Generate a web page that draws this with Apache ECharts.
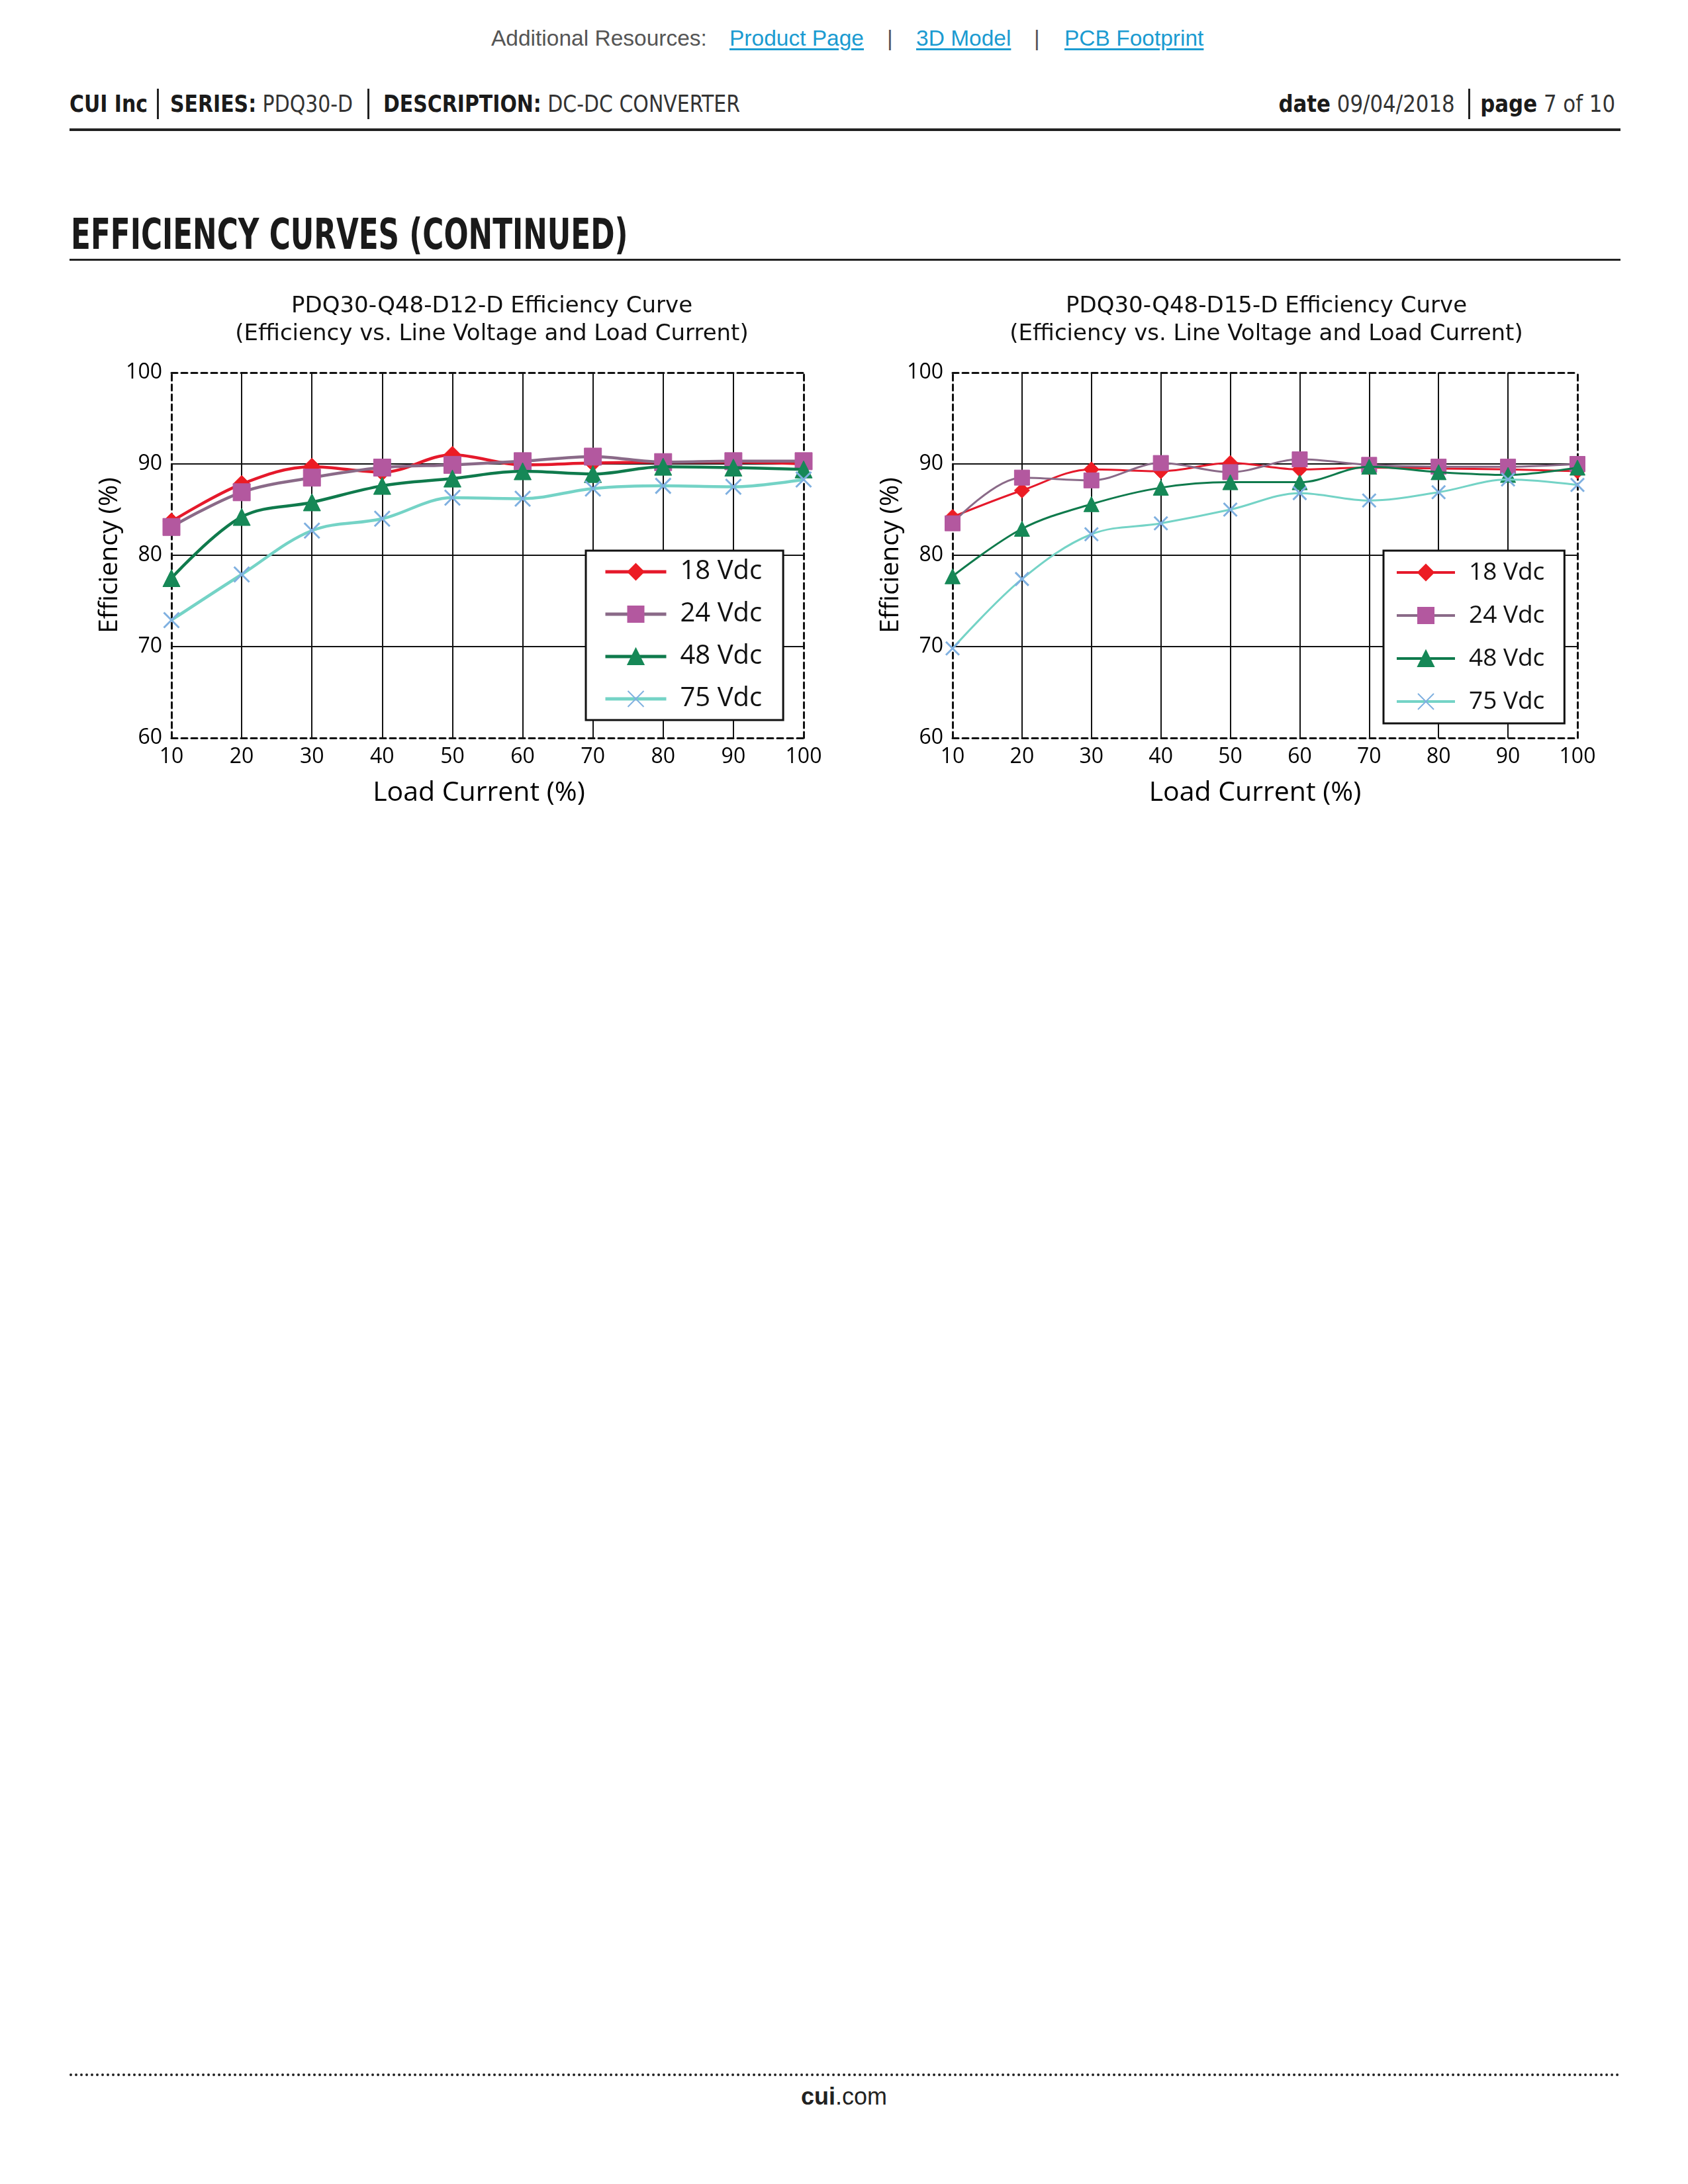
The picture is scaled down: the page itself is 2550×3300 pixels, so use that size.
<!DOCTYPE html>
<html>
<head>
<meta charset="utf-8">
<script src="https://cdn.jsdelivr.net/npm/echarts@6/dist/echarts.min.js"></script>
<style>
  html, body { margin:0; padding:0; background:#fff; }
  body { width:2550px; height:3300px; position:relative; overflow:hidden; }
  .abs { position:absolute; white-space:nowrap; }
  .res { font-family:"Liberation Sans", Arial, sans-serif; font-size:33.5px; color:#555; top:39px; }
  .lnk { color:#1b9bd1; text-decoration:underline; text-underline-offset:4px; }
  .hdr { font-family:"DejaVu Sans Condensed","DejaVu Sans",sans-serif; font-size:35px; color:#333; top:135px; line-height:44px; transform:scaleX(0.95); transform-origin:left center; }
  .hdr.r { transform:scaleX(0.98); transform-origin:right center; }
  .hdr b { font-weight:bold; color:#1a1a1a; }
  .bar { position:absolute; width:3px; background:#222; top:134px; height:46px; }
  .rule { position:absolute; left:105px; width:2343px; background:#222; }
  #chart { position:absolute; left:0; top:400px; width:2550px; height:850px; }
</style>
</head>
<body>
<div class="abs res" style="left:742px;">Additional Resources:</div>
<div class="abs res lnk" style="left:1102px;">Product Page</div>
<div class="abs res" style="left:1340px;">|</div>
<div class="abs res lnk" style="left:1384px;">3D Model</div>
<div class="abs res" style="left:1562px;">|</div>
<div class="abs res lnk" style="left:1608px;">PCB Footprint</div>

<div class="abs hdr" style="left:105px;"><b>CUI Inc</b></div>
<div class="bar" style="left:237px;"></div>
<div class="abs hdr" style="left:257px;"><b>SERIES:</b> PDQ30-D</div>
<div class="bar" style="left:555px;"></div>
<div class="abs hdr" style="left:579px;"><b>DESCRIPTION:</b> DC-DC CONVERTER</div>
<div class="abs hdr r" style="right:352px;"><b>date</b> 09/04/2018</div>
<div class="bar" style="left:2218px;"></div>
<div class="abs hdr r" style="right:110px;"><b>page</b> 7 of 10</div>
<div class="rule" style="top:194px;height:4px;"></div>

<div class="abs" id="sect" style="left:107px;top:322px;font-family:'DejaVu Sans Condensed','DejaVu Sans',sans-serif;font-weight:bold;font-size:54px;color:#1a1a1a;line-height:64px;transform:scale(0.9,1.2);transform-origin:left center;">EFFICIENCY CURVES (CONTINUED)</div>
<div class="rule" style="top:391px;height:3px;"></div>

<div id="chart"></div>

<div class="rule" style="top:3133px;height:0;background:none;border-top:4px dotted #222;"></div>
<div class="abs" style="left:0;width:2550px;text-align:center;top:3147px;font-family:'Liberation Sans',Arial,sans-serif;font-size:36px;color:#222;"><b>cui</b>.com</div>

<script>
// ---------------- data ----------------
const loadCurrent = [10, 20, 30, 40, 50, 60, 70, 80, 90, 100];
const seriesNames = ['18 Vdc', '24 Vdc', '48 Vdc', '75 Vdc'];
const yTicks = [60, 70, 80, 90, 100];

// PDQ30-Q48-D12-D
const d12_18 = [83.7, 87.8, 89.7, 89.1, 91.0, 89.9, 90.1, 90.2, 90.2, 90.0];
const d12_24 = [83.1, 86.9, 88.5, 89.6, 89.9, 90.3, 90.8, 90.2, 90.3, 90.3];
const d12_48 = [77.5, 84.2, 85.8, 87.6, 88.4, 89.2, 88.9, 89.7, 89.6, 89.4];
const d12_75 = [72.9, 77.9, 82.7, 84.0, 86.3, 86.2, 87.3, 87.6, 87.5, 88.3];

// PDQ30-Q48-D15-D
const d15_18 = [84.2, 87.1, 89.4, 89.2, 90.1, 89.4, 89.6, 89.5, 89.4, 89.2];
const d15_24 = [83.5, 88.5, 88.2, 90.1, 89.1, 90.5, 89.9, 89.7, 89.7, 90.0];
const d15_48 = [77.7, 82.9, 85.6, 87.4, 88.0, 88.0, 89.7, 89.1, 88.8, 89.6];
const d15_75 = [69.8, 77.4, 82.3, 83.5, 85.0, 86.8, 86.0, 86.9, 88.3, 87.7];

const titles = [
  'PDQ30-Q48-D12-D Efficiency Curve\n(Efficiency vs. Line Voltage and Load Current)',
  'PDQ30-Q48-D15-D Efficiency Curve\n(Efficiency vs. Line Voltage and Load Current)'
];

// ---------------- styles ----------------
const styles = [
  { symbol: 'diamond', line: '#e5192b', mark: '#ec1c24' },
  { symbol: 'rect', line: '#8a6a88', mark: '#b3589f' },
  { symbol: 'triangle', line: '#0f7a4c', mark: '#168857' },
  { symbol: 'path://M0,0L10,10M10,0L0,10', line: '#74d3c6', mark: '#7fb0e0' }
];
const FONT = "'Open Sans', 'DejaVu Sans', sans-serif";

const grids = [
  { left: 259, top: 163, width: 955, height: 552 },
  { left: 1439, top: 163, width: 944, height: 552 }
];
const namePadRight = [26, 30];

const dashed = { color: '#111', width: 3, type: [9, 6] };

function xAxes(gi) {
  return [
    {
      gridIndex: gi, type: 'value', min: 10, max: 100, interval: 10, position: 'bottom',
      axisLine: { show: true, onZero: false, lineStyle: dashed },
      axisTick: { show: false },
      axisLabel: { fontSize: 32, color: '#000', margin: 13, fontFamily: FONT },
      splitLine: { show: true, showMinLine: false, showMaxLine: false, lineStyle: { color: '#111', width: 2 } },
      name: 'Load Current (%)', nameLocation: 'middle', nameGap: 63,
      nameTextStyle: { fontSize: 41, color: '#000', fontFamily: FONT, padding: [0, namePadRight[gi], 0, 0] }
    },
    {
      gridIndex: gi, type: 'value', min: 10, max: 100, interval: 10, position: 'top',
      axisLine: { show: true, onZero: false, lineStyle: dashed },
      axisTick: { show: false }, axisLabel: { show: false }, splitLine: { show: false }
    }
  ];
}
function yAxes(gi) {
  return [
    {
      gridIndex: gi, type: 'value', min: yTicks[0], max: yTicks[yTicks.length - 1], interval: 10, position: 'left',
      axisLine: { show: true, onZero: false, lineStyle: dashed },
      axisTick: { show: false },
      axisLabel: { fontSize: 32, color: '#000', margin: 14, fontFamily: FONT },
      splitLine: { show: true, showMinLine: false, showMaxLine: false, lineStyle: { color: '#111', width: 2 } },
      name: 'Efficiency (%)', nameLocation: 'middle', nameGap: 74,
      nameTextStyle: { fontSize: 39, color: '#000', fontFamily: FONT }
    },
    {
      gridIndex: gi, type: 'value', min: yTicks[0], max: yTicks[yTicks.length - 1], interval: 10, position: 'right',
      axisLine: { show: true, onZero: false, lineStyle: dashed },
      axisTick: { show: false }, axisLabel: { show: false }, splitLine: { show: false }
    }
  ];
}

function makeSeries(gi, sets, lw, size) {
  return sets.map((vals, k) => ({
    type: 'line',
    name: seriesNames[k],
    xAxisIndex: gi * 2, yAxisIndex: gi * 2,
    data: loadCurrent.map((x, i) => [x, vals[i]]),
    smooth: 0.35,
    symbol: styles[k].symbol,
    symbolSize: k === 3 ? size - 3 : size,
    lineStyle: { color: styles[k].line, width: lw },
    itemStyle: k === 3
      ? { color: 'rgba(0,0,0,0)', borderColor: styles[k].mark, borderWidth: 3 }
      : { color: styles[k].mark, borderColor: styles[k].mark, borderWidth: 1 },
    emphasis: { disabled: true },
    z: 3 + k
  }));
}

const legendBase = {
  orient: 'vertical', show: true, selectedMode: false,
  backgroundColor: '#fff', borderColor: '#111', borderWidth: 3, borderRadius: 0,
  itemWidth: 92, itemHeight: 30,
  textStyle: { fontFamily: FONT, color: '#111', lineHeight: 40, padding: [0, 0, 0, 16] },
  data: seriesNames
};

const option = {
  animation: false,
  backgroundColor: '#fff',
  title: titles.map((t, i) => ({
    text: t,
    left: i === 0 ? 738 : 1908, top: 37, textAlign: 'center',
    textStyle: { fontFamily: "'DejaVu Sans', sans-serif", fontWeight: 'normal', fontSize: 34, lineHeight: 42, color: '#111' }
  })),
  grid: grids,
  xAxis: [...xAxes(0), ...xAxes(1)],
  yAxis: [...yAxes(0), ...yAxes(1)],
  legend: [
    Object.assign({}, legendBase, {
      left: 885, top: 432, padding: [12, 32, 12, 27], itemGap: 24,
      lineStyle: { width: 5 },
      textStyle: Object.assign({}, legendBase.textStyle, { fontSize: 40 })
    }),
    Object.assign({}, legendBase, {
      left: 2090, top: 432, padding: [13, 30, 13, 18], itemGap: 25, itemWidth: 88,
      lineStyle: { width: 4 },
      textStyle: Object.assign({}, legendBase.textStyle, { fontSize: 37 })
    })
  ],
  series: [
    ...makeSeries(0, [d12_18, d12_24, d12_48, d12_75], 4.5, 26),
    ...makeSeries(1, [d15_18, d15_24, d15_48, d15_75], 3, 23)
  ]
};

const chart = echarts.init(document.getElementById('chart'), null, { renderer: 'canvas' });
chart.setOption(option);
</script>
</body>
</html>
